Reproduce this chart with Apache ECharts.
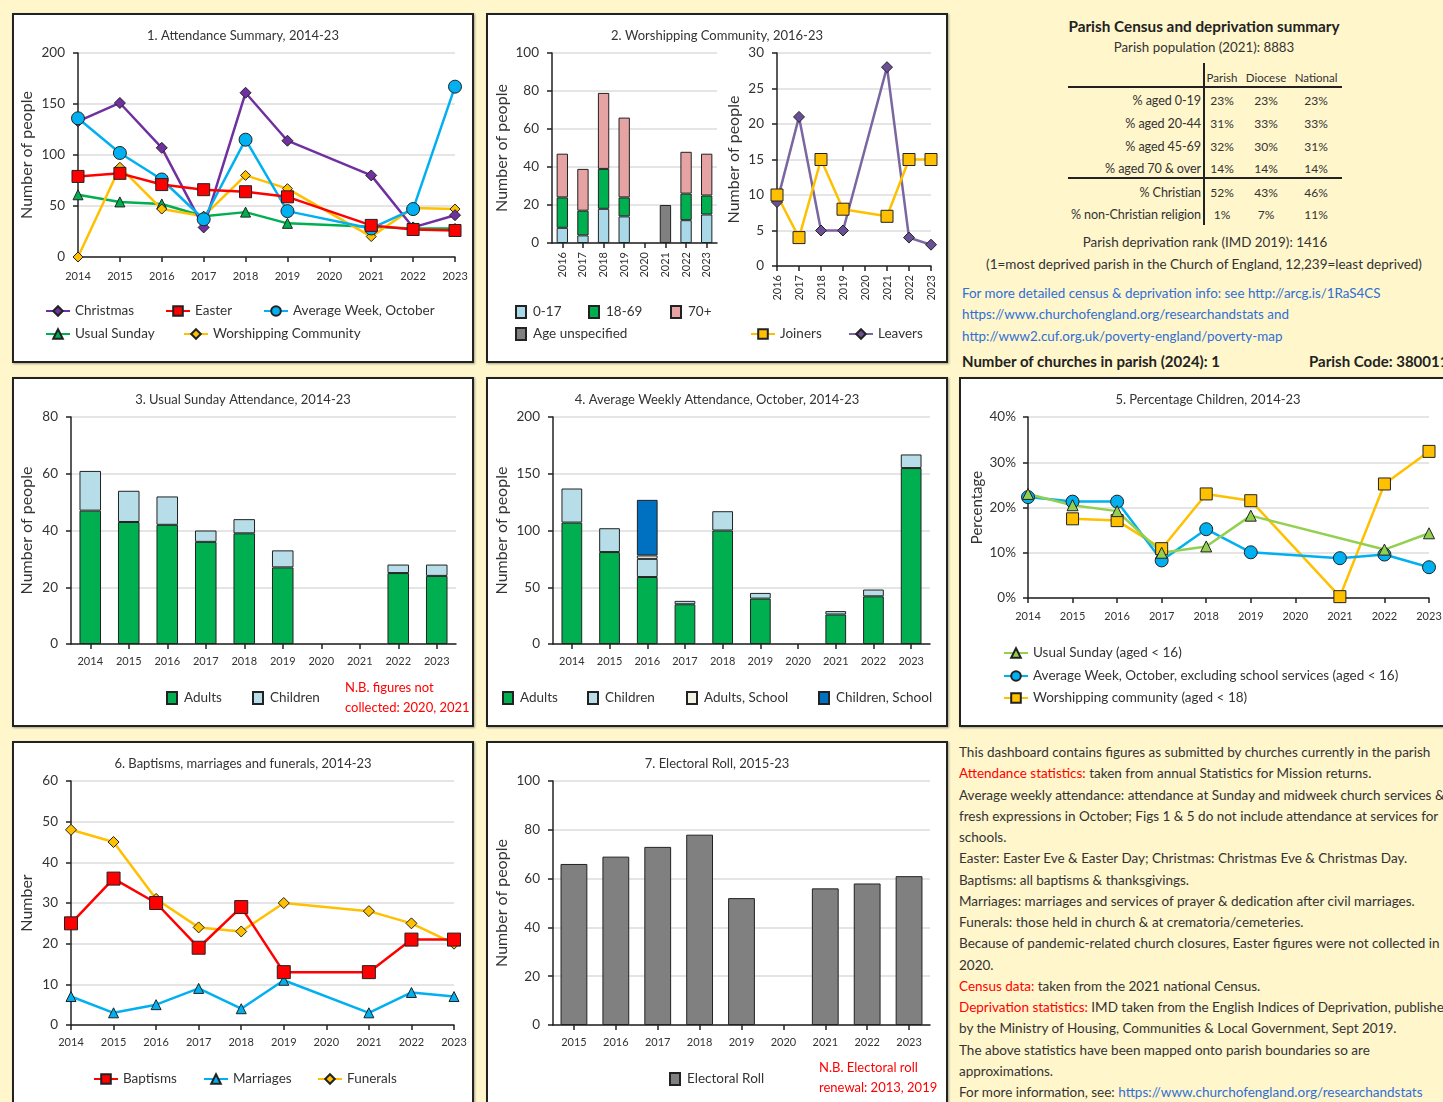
<!DOCTYPE html>
<html>
<head>
<meta charset="utf-8">
<title>Parish dashboard</title>
<script src="https://cdn.jsdelivr.net/npm/echarts@6/dist/echarts.min.js"></script>
<style>
  html, body { margin: 0; padding: 0; }
  body {
    width: 1443px; height: 1102px; overflow: hidden; position: relative;
    background: #FFF6CC; color: #333;
    font-family: Lato, "Open Sans", sans-serif;
  }
  .panel {
    position: absolute; box-sizing: border-box;
    border: 2px solid #222; background: #fff;
    box-shadow: 1px 1px 2px rgba(0, 0, 0, 0.35);
  }
  .txt { position: absolute; white-space: nowrap; line-height: 1; }
  .red { color: #FF0000; }
  .blue { color: #2F6FD6; }
  .rule { position: absolute; background: #222; }
</style>
</head>
<body>
<div class="panel" id="p1" style="left:12px;top:13px;width:462px;height:350px"></div>
<div class="panel" id="p2" style="left:486px;top:13px;width:462px;height:350px"></div>
<div class="panel" id="p3" style="left:12px;top:377px;width:462px;height:350px"></div>
<div class="panel" id="p4" style="left:486px;top:377px;width:462px;height:350px"></div>
<div class="panel" id="p5" style="left:959px;top:377px;width:500px;height:350px"></div>
<div class="panel" id="p6" style="left:12px;top:741px;width:462px;height:380px"></div>
<div class="panel" id="p7" style="left:486px;top:741px;width:462px;height:380px"></div>
<div id="texts"></div>

<script>
// ---- data ----
const years = ['2014', '2015', '2016', '2017', '2018', '2019', '2020', '2021', '2022', '2023'];

// 1. attendance summary
const christmas = [133, 151, 107, 29, 161, 114, null, 80, 29, 41];
const easter = [79, 82, 71, 66, 64, 59, null, 31, 27, 26];
const avgWeek = [136, 102, 76, 37, 115, 45, null, 28, 47, 167];
const usualSunday = [61, 54, 52, 40, 44, 33, null, null, 28, 28];
const worshipping = [0, 88, 47, 40, 80, 67, null, 20, 48, 47];

// 2. worshipping community
const wcYears = ['2016', '2017', '2018', '2019', '2020', '2021', '2022', '2023'];
const wcAge0to17 = [8, 4, 18, 14, null, null, 12, 15];
const wcAge18to69 = [16, 13, 21, 10, null, null, 14, 10];
const wcAge70plus = [23, 22, 40, 42, null, null, 22, 22];
const wcAgeUnspecified = [null, null, null, null, null, 20, null, null];
const joiners = [10, 4, 15, 8, null, 7, 15, 15];
const leavers = [9, 21, 5, 5, null, 28, 4, 3];

// 3. usual sunday
const usAdults = [47, 43, 42, 36, 39, 27, null, null, 25, 24];
const usChildren = [14, 11, 10, 4, 5, 6, null, null, 3, 4];

// 4. average weekly attendance
const awAdults = [107, 81, 59, 35, 100, 40, null, 26, 42, 155];
const awChildren = [30, 21, 16, 3, 17, 5, null, 3, 6, 12];
const awAdultsSchool = [null, null, 3, null, null, null, null, null, null, null];
const awChildrenSchool = [null, null, 49, null, null, null, null, null, null, null];

// 5. percentage children
const pctUsualSunday = [23, 20.5, 19.2, 10, 11.4, 18.2, null, null, 10.7, 14.3];
const pctAvgWeek = [22.3, 21.3, 21.3, 8.3, 15.2, 10.1, null, 8.8, 9.6, 6.8];
const pctWorshipping = [null, 17.5, 17.1, 10.9, 23, 21.5, null, 0.3, 25.2, 32.4];

// 6. baptisms, marriages, funerals
const baptisms = [25, 36, 30, 19, 29, 13, null, 13, 21, 21];
const marriages = [7, 3, 5, 9, 4, 11, null, 3, 8, 7];
const funerals = [48, 45, 31, 24, 23, 30, null, 28, 25, 20];

// 7. electoral roll
const erYears = ['2015', '2016', '2017', '2018', '2019', '2020', '2021', '2022', '2023'];
const electoralRoll = [66, 69, 73, 78, 52, null, 56, 58, 61];

// census table
const censusHeads = ['Parish', 'Diocese', 'National'];
const censusLabels = ['% aged 0-19', '% aged 20-44', '% aged 45-69', '% aged 70 & over', '% Christian', '% non-Christian religion'];
const censusParish = ['23%', '31%', '32%', '14%', '52%', '1%'];
const censusDiocese = ['23%', '33%', '30%', '14%', '43%', '7%'];
const censusNational = ['23%', '33%', '31%', '14%', '46%', '11%'];

// ---- helpers ----
const FONT = 'Lato, "Open Sans", sans-serif';
const INK = '#333';
const instances = [];

function initChart(id) {
  const chart = echarts.init(document.getElementById(id));
  instances.push(chart);
  return chart;
}

// panel content origin (page coords) = panel left/top + border
const origins = {
  p1: [14, 15], p2: [488, 15], p3: [14, 379], p4: [488, 379],
  p5: [961, 379], p6: [14, 743], p7: [488, 743]
};

// plot rectangle in page coords; no auto shrinking for labels
function gridAt(o, x0, y0, x1, y1) {
  return {
    left: x0 - o[0], top: y0 - o[1], width: x1 - x0, height: y1 - y0,
    containLabel: false, outerBoundsMode: 'none'
  };
}

function titleOf(text) {
  return {
    text, left: 'center', top: 9,
    textStyle: { fontSize: 13, fontWeight: 'normal', color: INK, fontFamily: FONT }
  };
}

function catAxis(data, extra) {
  return Object.assign({
    type: 'category', data,
    axisLine: { show: true, lineStyle: { color: '#222', width: 1.5 } },
    axisTick: { show: true, length: 5, alignWithLabel: true, lineStyle: { color: '#222', width: 1.5 } },
    axisLabel: { color: INK, fontSize: 11, fontFamily: FONT, margin: 12 }
  }, extra);
}

function valAxis(max, interval, name, nameGap, extra) {
  return Object.assign({
    type: 'value', min: 0, max, interval,
    name, nameLocation: 'middle', nameGap, nameMoveOverlap: false,
    nameTextStyle: { fontSize: 16, color: INK, fontFamily: FONT },
    axisLine: { show: true, lineStyle: { color: '#222', width: 1.5 } },
    axisTick: { show: true, length: 5, lineStyle: { color: '#222', width: 1.5 } },
    axisLabel: { color: INK, fontSize: 13.5, fontFamily: FONT, margin: 13 },
    splitLine: { show: true, lineStyle: { color: '#DCDCDC', width: 1.5 } }
  }, extra);
}

function legendAt(o, name, x, y, isRect) {
  const l = {
    data: [name], left: x - o[0], top: y - 7 - o[1],
    padding: 0, itemGap: 0, itemWidth: 24, itemHeight: 12,
    selectedMode: false,
    textStyle: { fontSize: 13.5, color: INK, fontFamily: FONT }
  };
  if (isRect) {
    l.icon = 'rect';
    l.itemWidth = 10;
    l.itemHeight = 12;
    l.textStyle.padding = [0, 0, 0, 2];
  }
  return l;
}

function lineSeries(name, data, color, symbol, size, extra) {
  return Object.assign({
    name, type: 'line', data, connectNulls: true,
    symbol, symbolSize: size,
    lineStyle: { color, width: 2.5 },
    itemStyle: { color, borderColor: '#222', borderWidth: 1 },
    emphasis: { disabled: true }
  }, extra);
}

function barSeries(name, data, color, stack, width, extra) {
  return Object.assign({
    name, type: 'bar', data, stack, barWidth: width,
    itemStyle: { color, borderColor: '#222', borderWidth: 1 },
    emphasis: { disabled: true }
  }, extra);
}

function noteAt(o, lines, x, y) {
  return lines.map((t, i) => ({
    type: 'text', left: x - o[0], top: y - 7 + i * 20 - o[1],
    style: { text: t, fill: '#FF0000', font: '13px ' + FONT }
  }));
}

// ---- 1. attendance summary ----
(function () {
  const o = origins.p1;
  const chart = initChart('p1');
  chart.setOption({
    animation: false,
    title: titleOf('1. Attendance Summary, 2014-23'),
    grid: gridAt(o, 78, 53, 455, 257),
    xAxis: catAxis(years, { boundaryGap: false, axisLabel: { color: INK, fontSize: 11, fontFamily: FONT, margin: 14 } }),
    yAxis: valAxis(200, 50, 'Number of people', 43),
    legend: [
      legendAt(o, 'Christmas', 45, 311),
      legendAt(o, 'Easter', 165, 311),
      legendAt(o, 'Average Week, October', 263, 311),
      legendAt(o, 'Usual Sunday', 45, 334),
      legendAt(o, 'Worshipping Community', 183, 334)
    ],
    series: [
      lineSeries('Usual Sunday', usualSunday, '#00B050', 'triangle', 10),
      lineSeries('Worshipping Community', worshipping, '#FFC000', 'diamond', 10),
      lineSeries('Christmas', christmas, '#7030A0', 'diamond', 11),
      lineSeries('Average Week, October', avgWeek, '#00B0F0', 'circle', 13),
      lineSeries('Easter', easter, '#FF0000', 'rect', 12)
    ]
  });
})();

// ---- 2. worshipping community ----
(function () {
  const o = origins.p2;
  const chart = initChart('p2');
  const rotLabel = { color: INK, fontSize: 11, fontFamily: FONT, rotate: 90, margin: 9 };
  chart.setOption({
    animation: false,
    title: titleOf('2. Worshipping Community, 2016-23'),
    grid: [gridAt(o, 552, 53, 717, 243), gridAt(o, 777, 53, 931, 266)],
    xAxis: [
      catAxis(wcYears, { gridIndex: 0, axisLabel: rotLabel }),
      catAxis(wcYears, { gridIndex: 1, boundaryGap: false, axisLabel: rotLabel })
    ],
    yAxis: [
      valAxis(100, 20, 'Number of people', 42, { gridIndex: 0 }),
      valAxis(30, 5, 'Number of people', 35, { gridIndex: 1 })
    ],
    legend: [
      legendAt(o, '0-17', 515, 312, true),
      legendAt(o, '18-69', 588, 312, true),
      legendAt(o, '70+', 670, 312, true),
      legendAt(o, 'Age unspecified', 515, 334, true),
      legendAt(o, 'Joiners', 750, 334),
      legendAt(o, 'Leavers', 848, 334)
    ],
    series: [
      barSeries('0-17', wcAge0to17, '#A9D8E8', 'wc', '55%'),
      barSeries('18-69', wcAge18to69, '#00B050', 'wc', '55%'),
      barSeries('70+', wcAge70plus, '#E6A3A3', 'wc', '55%'),
      barSeries('Age unspecified', wcAgeUnspecified, '#808080', 'wc', '55%'),
      lineSeries('Leavers', leavers, '#7A66A0', 'diamond', 11, { xAxisIndex: 1, yAxisIndex: 1, itemStyle: { color: '#6B4F96', borderColor: '#222', borderWidth: 1 } }),
      lineSeries('Joiners', joiners, '#FFC000', 'rect', 12, { xAxisIndex: 1, yAxisIndex: 1 })
    ]
  });
})();

// ---- 3. usual sunday attendance ----
(function () {
  const o = origins.p3;
  const chart = initChart('p3');
  chart.setOption({
    animation: false,
    title: titleOf('3. Usual Sunday Attendance, 2014-23'),
    grid: gridAt(o, 71, 417, 456, 644),
    xAxis: catAxis(years),
    yAxis: valAxis(80, 20, 'Number of people', 36),
    legend: [
      legendAt(o, 'Adults', 166, 698, true),
      legendAt(o, 'Children', 252, 698, true)
    ],
    graphic: noteAt(o, ['N.B. figures not', 'collected: 2020, 2021'], 345, 688),
    series: [
      barSeries('Adults', usAdults, '#00B050', 'us', '56%'),
      barSeries('Children', usChildren, '#B7DEE8', 'us', '56%')
    ]
  });
})();

// ---- 4. average weekly attendance ----
(function () {
  const o = origins.p4;
  const chart = initChart('p4');
  chart.setOption({
    animation: false,
    title: titleOf('4. Average Weekly Attendance, October, 2014-23'),
    grid: gridAt(o, 553, 417, 930, 644),
    xAxis: catAxis(years),
    yAxis: valAxis(200, 50, 'Number of people', 43),
    legend: [
      legendAt(o, 'Adults', 502, 698, true),
      legendAt(o, 'Children', 587, 698, true),
      legendAt(o, 'Adults, School', 686, 698, true),
      legendAt(o, 'Children, School', 818, 698, true)
    ],
    series: [
      barSeries('Adults', awAdults, '#00B050', 'aw', '55%'),
      barSeries('Children', awChildren, '#B7DEE8', 'aw', '55%'),
      barSeries('Adults, School', awAdultsSchool, '#F2F2E3', 'aw', '55%'),
      barSeries('Children, School', awChildrenSchool, '#0070C0', 'aw', '55%')
    ]
  });
})();

// ---- 5. percentage children ----
(function () {
  const o = origins.p5;
  const chart = initChart('p5');
  chart.setOption({
    animation: false,
    title: Object.assign(titleOf('5. Percentage Children, 2014-23'), { left: 1203 - o[0], textAlign: 'center' }),
    grid: gridAt(o, 1028, 417, 1429, 598),
    xAxis: catAxis(years, { boundaryGap: false, axisLabel: { color: INK, fontSize: 11, fontFamily: FONT, margin: 13 } }),
    yAxis: valAxis(40, 10, 'Percentage', 43, {
      nameTextStyle: { fontSize: 15, color: INK, fontFamily: FONT },
      axisLabel: { color: INK, fontSize: 13.5, fontFamily: FONT, margin: 12, formatter: '{value}%' }
    }),
    legend: [
      legendAt(o, 'Usual Sunday (aged < 16)', 1003, 653),
      legendAt(o, 'Average Week, October, excluding school services (aged < 16)', 1003, 676),
      legendAt(o, 'Worshipping community (aged < 18)', 1003, 698)
    ],
    series: [
      lineSeries('Worshipping community (aged < 18)', pctWorshipping, '#FFC000', 'rect', 12),
      lineSeries('Average Week, October, excluding school services (aged < 16)', pctAvgWeek, '#00B0F0', 'circle', 13),
      lineSeries('Usual Sunday (aged < 16)', pctUsualSunday, '#92D050', 'triangle', 11)
    ]
  });
})();

// ---- 6. baptisms, marriages and funerals ----
(function () {
  const o = origins.p6;
  const chart = initChart('p6');
  chart.setOption({
    animation: false,
    title: titleOf('6. Baptisms, marriages and funerals, 2014-23'),
    grid: gridAt(o, 71, 781, 454, 1025),
    xAxis: catAxis(years, { boundaryGap: false }),
    yAxis: valAxis(60, 10, 'Number', 36),
    legend: [
      legendAt(o, 'Baptisms', 93, 1079),
      legendAt(o, 'Marriages', 203, 1079),
      legendAt(o, 'Funerals', 317, 1079)
    ],
    series: [
      lineSeries('Marriages', marriages, '#00B0F0', 'triangle', 10),
      lineSeries('Funerals', funerals, '#FFC000', 'diamond', 11),
      lineSeries('Baptisms', baptisms, '#FF0000', 'rect', 13)
    ]
  });
})();

// ---- 7. electoral roll ----
(function () {
  const o = origins.p7;
  const chart = initChart('p7');
  chart.setOption({
    animation: false,
    title: titleOf('7. Electoral Roll, 2015-23'),
    grid: gridAt(o, 553, 781, 930, 1025),
    xAxis: catAxis(erYears),
    yAxis: valAxis(100, 20, 'Number of people', 43),
    legend: [legendAt(o, 'Electoral Roll', 669, 1079, true)],
    graphic: noteAt(o, ['N.B. Electoral roll', 'renewal: 2013, 2019'], 819, 1068),
    series: [barSeries('Electoral Roll', electoralRoll, '#808080', 'er', '64%')]
  });
})();

// ---- text blocks ----
const box = document.getElementById('texts');
// align: 'l' left, 'c' centre, 'r' right; y is the text's vertical centre
function place(html, x, y, size, align, extra) {
  const s = document.createElement('span');
  s.className = 'txt';
  s.innerHTML = html;
  const tx = align === 'c' ? '-50%' : align === 'r' ? '-100%' : '0';
  s.style.cssText = `left:${x}px;top:${y}px;font-size:${size}px;transform:translate(${tx},-50%);` + (extra || '');
  box.appendChild(s);
  return s;
}
function rule(x, y, w, h) {
  const d = document.createElement('div');
  d.className = 'rule';
  d.style.cssText = `left:${x}px;top:${y}px;width:${w}px;height:${h}px`;
  box.appendChild(d);
}

place('Parish Census and deprivation summary', 1204, 27, 15.3, 'c', 'font-weight:bold;color:#222');
place('Parish population (2021): 8883', 1204, 48, 13.3, 'c');
censusHeads.forEach((h, i) => place(h, [1222, 1266, 1316][i], 78, 11.5, 'c'));
rule(1068, 86, 274, 1.5);
rule(1068, 177, 274, 1.5);
rule(1203, 63, 1.5, 162);
censusLabels.forEach((lab, i) => {
  const y = [101, 124, 147, 169, 193, 215][i];
  place(lab, 1201, y, 12.6, 'r', 'letter-spacing:-0.1px');
  place(censusParish[i], 1222, y, 12, 'c');
  place(censusDiocese[i], 1266, y, 12, 'c');
  place(censusNational[i], 1316, y, 12, 'c');
});
place('Parish deprivation rank (IMD 2019): 1416', 1205, 243, 13.4, 'c');
place('(1=most deprived parish in the Church of England, 12,239=least deprived)', 1204, 265, 13.5, 'c');
place('For more detailed census &amp; deprivation info: see http://arcg.is/1RaS4CS', 962, 294, 13.4, 'l', 'color:#2F6FD6');
place('https://www.churchofengland.org/researchandstats and', 962, 315, 13.4, 'l', 'color:#2F6FD6');
place('http://www2.cuf.org.uk/poverty-england/poverty-map', 962, 337, 13.4, 'l', 'color:#2F6FD6');
place('Number of churches in parish (2024): 1', 962, 361, 15, 'l', 'font-weight:bold;color:#222');
place('Parish Code: 380011', 1309, 361, 15, 'l', 'font-weight:bold;color:#222');

const notes = [
  'This dashboard contains figures as submitted by churches currently in the parish',
  '<span class="red">Attendance statistics:</span> taken from annual Statistics for Mission returns.',
  'Average weekly attendance: attendance at Sunday and midweek church services &amp;',
  'fresh expressions in October; Figs 1 &amp; 5 do not include attendance at services for',
  'schools.',
  'Easter: Easter Eve &amp; Easter Day; Christmas: Christmas Eve &amp; Christmas Day.',
  'Baptisms: all baptisms &amp; thanksgivings.',
  'Marriages: marriages and services of prayer &amp; dedication after civil marriages.',
  'Funerals: those held in church &amp; at crematoria/cemeteries.',
  'Because of pandemic-related church closures, Easter figures were not collected in',
  '2020.',
  '<span class="red">Census data:</span> taken from the 2021 national Census.',
  '<span class="red">Deprivation statistics:</span> IMD taken from the English Indices of Deprivation, published',
  'by the Ministry of Housing, Communities &amp; Local Government, Sept 2019.',
  'The above statistics have been mapped onto parish boundaries so are',
  'approximations.',
  'For more information, see: <span class="blue">https://www.churchofengland.org/researchandstats</span>'
];
notes.forEach((t, i) => place(t, 959, 753 + i * 21.25, 13.5, 'l'));

window.addEventListener('resize', () => {
  instances.forEach((chart) => { !chart.isDisposed() && chart.resize(); });
});
</script>
</body>
</html>
